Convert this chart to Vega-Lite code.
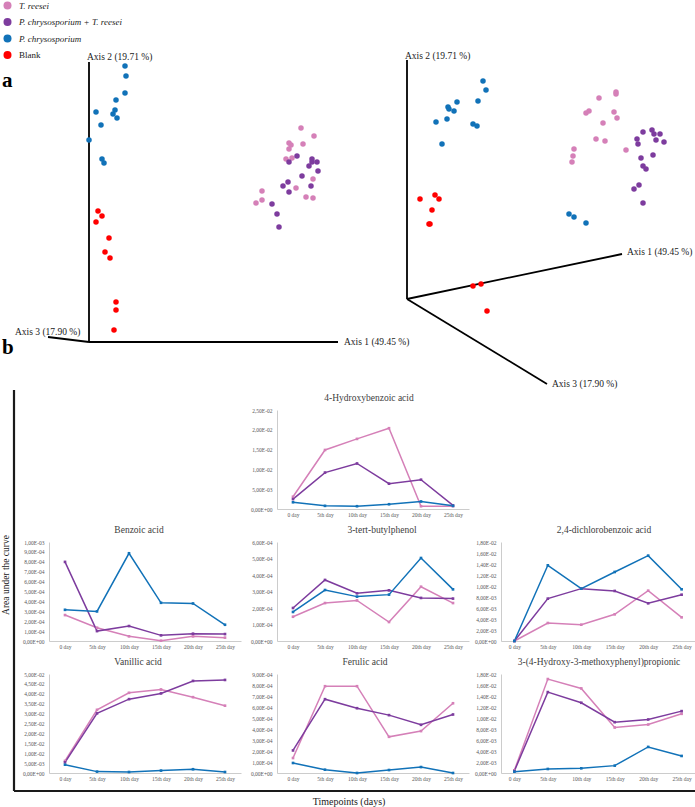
{
"$schema": "https://vega.github.io/schema/vega-lite/v6.json",
"padding": 0,
"background": "white",
"columns": 4,
"bounds": "flush",
"align": "each",
"spacing": {"row": 33, "column": 0},
"config": {
 "font": "Liberation Serif",
 "view": {"stroke": null},
 "axis": {"domainColor": "#bfbfbf", "domainWidth": 0.8, "ticks": false, "grid": false, "labelFont": "Liberation Serif", "labelFontSize": 5.5, "labelColor": "#595959", "labelOverlap": false},
 "axisX": {"labelAngle": 0, "labelPadding": 3},
 "axisY": {"labelPadding": 5},
 "title": {"font": "Liberation Serif", "fontSize": 9.5, "fontWeight": "normal", "color": "#404040", "offset": 6}
},
"datasets": {
 "pcoa": [
  {"group": "P. chrysosporium", "x": 125, "y": 66}, {"group": "P. chrysosporium", "x": 126, "y": 76}, {"group": "P. chrysosporium", "x": 125, "y": 93}, {"group": "P. chrysosporium", "x": 116, "y": 100}, {"group": "P. chrysosporium", "x": 96, "y": 112}, {"group": "P. chrysosporium", "x": 115, "y": 110}, {"group": "P. chrysosporium", "x": 113, "y": 114}, {"group": "P. chrysosporium", "x": 117, "y": 118}, {"group": "P. chrysosporium", "x": 101, "y": 125}, {"group": "P. chrysosporium", "x": 89, "y": 140}, {"group": "P. chrysosporium", "x": 102, "y": 159}, {"group": "P. chrysosporium", "x": 104, "y": 163},
  {"group": "Blank", "x": 98, "y": 211}, {"group": "Blank", "x": 102, "y": 216}, {"group": "Blank", "x": 96, "y": 222}, {"group": "Blank", "x": 109, "y": 238}, {"group": "Blank", "x": 105, "y": 252}, {"group": "Blank", "x": 110, "y": 258}, {"group": "Blank", "x": 116, "y": 302}, {"group": "Blank", "x": 116, "y": 310}, {"group": "Blank", "x": 114, "y": 330},
  {"group": "T. reesei", "x": 301, "y": 128}, {"group": "T. reesei", "x": 314, "y": 136}, {"group": "T. reesei", "x": 289, "y": 143}, {"group": "T. reesei", "x": 291, "y": 145}, {"group": "T. reesei", "x": 303, "y": 144}, {"group": "T. reesei", "x": 289, "y": 149}, {"group": "T. reesei", "x": 286, "y": 159}, {"group": "T. reesei", "x": 292, "y": 158}, {"group": "T. reesei", "x": 313, "y": 179}, {"group": "T. reesei", "x": 296, "y": 188}, {"group": "T. reesei", "x": 262, "y": 191}, {"group": "T. reesei", "x": 262, "y": 200}, {"group": "T. reesei", "x": 256, "y": 203}, {"group": "T. reesei", "x": 306, "y": 197}, {"group": "T. reesei", "x": 313, "y": 198},
  {"group": "P. chrysosporium + T. reesei", "x": 297, "y": 156}, {"group": "P. chrysosporium + T. reesei", "x": 289, "y": 162}, {"group": "P. chrysosporium + T. reesei", "x": 312, "y": 159}, {"group": "P. chrysosporium + T. reesei", "x": 312, "y": 162}, {"group": "P. chrysosporium + T. reesei", "x": 317, "y": 162}, {"group": "P. chrysosporium + T. reesei", "x": 309, "y": 166}, {"group": "P. chrysosporium + T. reesei", "x": 318, "y": 171}, {"group": "P. chrysosporium + T. reesei", "x": 302, "y": 176}, {"group": "P. chrysosporium + T. reesei", "x": 288, "y": 182}, {"group": "P. chrysosporium + T. reesei", "x": 283, "y": 186}, {"group": "P. chrysosporium + T. reesei", "x": 311, "y": 186}, {"group": "P. chrysosporium + T. reesei", "x": 289, "y": 192}, {"group": "P. chrysosporium + T. reesei", "x": 272, "y": 204}, {"group": "P. chrysosporium + T. reesei", "x": 277, "y": 214}, {"group": "P. chrysosporium + T. reesei", "x": 279, "y": 227},
  {"group": "P. chrysosporium", "x": 483, "y": 81}, {"group": "P. chrysosporium", "x": 486, "y": 90}, {"group": "P. chrysosporium", "x": 478, "y": 101}, {"group": "P. chrysosporium", "x": 457, "y": 102}, {"group": "P. chrysosporium", "x": 448, "y": 107}, {"group": "P. chrysosporium", "x": 449, "y": 109}, {"group": "P. chrysosporium", "x": 454, "y": 111}, {"group": "P. chrysosporium", "x": 436, "y": 122}, {"group": "P. chrysosporium", "x": 447, "y": 119}, {"group": "P. chrysosporium", "x": 473, "y": 124}, {"group": "P. chrysosporium", "x": 477, "y": 126}, {"group": "P. chrysosporium", "x": 442, "y": 144}, {"group": "P. chrysosporium", "x": 569, "y": 214}, {"group": "P. chrysosporium", "x": 574, "y": 217}, {"group": "P. chrysosporium", "x": 586, "y": 223},
  {"group": "Blank", "x": 435, "y": 195}, {"group": "Blank", "x": 420, "y": 199}, {"group": "Blank", "x": 439, "y": 199}, {"group": "Blank", "x": 432, "y": 210}, {"group": "Blank", "x": 429, "y": 224}, {"group": "Blank", "x": 430, "y": 224}, {"group": "Blank", "x": 473, "y": 286}, {"group": "Blank", "x": 481, "y": 284}, {"group": "Blank", "x": 487, "y": 311},
  {"group": "T. reesei", "x": 616, "y": 92}, {"group": "T. reesei", "x": 616, "y": 94}, {"group": "T. reesei", "x": 599, "y": 98}, {"group": "T. reesei", "x": 589, "y": 111}, {"group": "T. reesei", "x": 586, "y": 113}, {"group": "T. reesei", "x": 614, "y": 112}, {"group": "T. reesei", "x": 617, "y": 118}, {"group": "T. reesei", "x": 603, "y": 123}, {"group": "T. reesei", "x": 596, "y": 139}, {"group": "T. reesei", "x": 605, "y": 141}, {"group": "T. reesei", "x": 626, "y": 150}, {"group": "T. reesei", "x": 574, "y": 149}, {"group": "T. reesei", "x": 573, "y": 156}, {"group": "T. reesei", "x": 572, "y": 162},
  {"group": "P. chrysosporium + T. reesei", "x": 643, "y": 132}, {"group": "P. chrysosporium + T. reesei", "x": 652, "y": 130}, {"group": "P. chrysosporium + T. reesei", "x": 654, "y": 134}, {"group": "P. chrysosporium + T. reesei", "x": 660, "y": 134}, {"group": "P. chrysosporium + T. reesei", "x": 656, "y": 140}, {"group": "P. chrysosporium + T. reesei", "x": 664, "y": 142}, {"group": "P. chrysosporium + T. reesei", "x": 637, "y": 139}, {"group": "P. chrysosporium + T. reesei", "x": 638, "y": 144}, {"group": "P. chrysosporium + T. reesei", "x": 653, "y": 155}, {"group": "P. chrysosporium + T. reesei", "x": 641, "y": 158}, {"group": "P. chrysosporium + T. reesei", "x": 643, "y": 166}, {"group": "P. chrysosporium + T. reesei", "x": 646, "y": 169}, {"group": "P. chrysosporium + T. reesei", "x": 639, "y": 185}, {"group": "P. chrysosporium + T. reesei", "x": 634, "y": 189}, {"group": "P. chrysosporium + T. reesei", "x": 643, "y": 203}
 ],
 "axislines": [
  {"x": 89, "y": 62, "x2": 89, "y2": 342}, {"x": 89, "y": 342, "x2": 338, "y2": 342}, {"x": 89, "y": 342, "x2": 48, "y2": 337},
  {"x": 407, "y": 60, "x2": 407, "y2": 299}, {"x": 407, "y": 299, "x2": 622, "y2": 254}, {"x": 407, "y": 299, "x2": 547, "y2": 384}
 ],
 "frame": [
  {"x": 14, "y": 390, "x2": 14, "y2": 791}, {"x": 14, "y": 791, "x2": 695, "y2": 791}
 ],
 "axislabels": [
  {"label": "Axis 2 (19.71 %)", "x": 87, "y": 57}, {"label": "Axis 1 (49.45 %)", "x": 344, "y": 342}, {"label": "Axis 3 (17.90 %)", "x": 15, "y": 332},
  {"label": "Axis 2 (19.71 %)", "x": 405, "y": 56}, {"label": "Axis 1 (49.45 %)", "x": 627, "y": 252}, {"label": "Axis 3 (17.90 %)", "x": 552, "y": 384}
 ],
 "panels": [{"label": "a", "x": 2, "y": 81}, {"label": "b", "x": 2, "y": 348}],
 "auc": [
  {"compound": "4-Hydroxybenzoic acid", "group": "T. reesei", "day": "0 day", "value": 0.0031},
  {"compound": "4-Hydroxybenzoic acid", "group": "T. reesei", "day": "5th day", "value": 0.0149},
  {"compound": "4-Hydroxybenzoic acid", "group": "T. reesei", "day": "10th day", "value": 0.0177},
  {"compound": "4-Hydroxybenzoic acid", "group": "T. reesei", "day": "15th day", "value": 0.0204},
  {"compound": "4-Hydroxybenzoic acid", "group": "T. reesei", "day": "20th day", "value": 0.0007},
  {"compound": "4-Hydroxybenzoic acid", "group": "T. reesei", "day": "25th day", "value": 0.0007},
  {"compound": "4-Hydroxybenzoic acid", "group": "P. chrysosporium + T. reesei", "day": "0 day", "value": 0.0025},
  {"compound": "4-Hydroxybenzoic acid", "group": "P. chrysosporium + T. reesei", "day": "5th day", "value": 0.0092},
  {"compound": "4-Hydroxybenzoic acid", "group": "P. chrysosporium + T. reesei", "day": "10th day", "value": 0.0115},
  {"compound": "4-Hydroxybenzoic acid", "group": "P. chrysosporium + T. reesei", "day": "15th day", "value": 0.0064},
  {"compound": "4-Hydroxybenzoic acid", "group": "P. chrysosporium + T. reesei", "day": "20th day", "value": 0.0074},
  {"compound": "4-Hydroxybenzoic acid", "group": "P. chrysosporium + T. reesei", "day": "25th day", "value": 0.0009},
  {"compound": "4-Hydroxybenzoic acid", "group": "P. chrysosporium", "day": "0 day", "value": 0.0017},
  {"compound": "4-Hydroxybenzoic acid", "group": "P. chrysosporium", "day": "5th day", "value": 0.0008},
  {"compound": "4-Hydroxybenzoic acid", "group": "P. chrysosporium", "day": "10th day", "value": 0.0007},
  {"compound": "4-Hydroxybenzoic acid", "group": "P. chrysosporium", "day": "15th day", "value": 0.0012},
  {"compound": "4-Hydroxybenzoic acid", "group": "P. chrysosporium", "day": "20th day", "value": 0.0019},
  {"compound": "4-Hydroxybenzoic acid", "group": "P. chrysosporium", "day": "25th day", "value": 0.0008},
  {"compound": "Benzoic acid", "group": "T. reesei", "day": "0 day", "value": 0.000262},
  {"compound": "Benzoic acid", "group": "T. reesei", "day": "5th day", "value": 0.000134},
  {"compound": "Benzoic acid", "group": "T. reesei", "day": "10th day", "value": 0.000047},
  {"compound": "Benzoic acid", "group": "T. reesei", "day": "15th day", "value": 0.000003},
  {"compound": "Benzoic acid", "group": "T. reesei", "day": "20th day", "value": 0.000047},
  {"compound": "Benzoic acid", "group": "T. reesei", "day": "25th day", "value": 0.000034},
  {"compound": "Benzoic acid", "group": "P. chrysosporium + T. reesei", "day": "0 day", "value": 0.000799},
  {"compound": "Benzoic acid", "group": "P. chrysosporium + T. reesei", "day": "5th day", "value": 0.0001},
  {"compound": "Benzoic acid", "group": "P. chrysosporium + T. reesei", "day": "10th day", "value": 0.000151},
  {"compound": "Benzoic acid", "group": "P. chrysosporium + T. reesei", "day": "15th day", "value": 0.000057},
  {"compound": "Benzoic acid", "group": "P. chrysosporium + T. reesei", "day": "20th day", "value": 0.000074},
  {"compound": "Benzoic acid", "group": "P. chrysosporium + T. reesei", "day": "25th day", "value": 0.00007},
  {"compound": "Benzoic acid", "group": "P. chrysosporium", "day": "0 day", "value": 0.000315},
  {"compound": "Benzoic acid", "group": "P. chrysosporium", "day": "5th day", "value": 0.000299},
  {"compound": "Benzoic acid", "group": "P. chrysosporium", "day": "10th day", "value": 0.000886},
  {"compound": "Benzoic acid", "group": "P. chrysosporium", "day": "15th day", "value": 0.000386},
  {"compound": "Benzoic acid", "group": "P. chrysosporium", "day": "20th day", "value": 0.000379},
  {"compound": "Benzoic acid", "group": "P. chrysosporium", "day": "25th day", "value": 0.000164},
  {"compound": "3-tert-butylphenol", "group": "T. reesei", "day": "0 day", "value": 0.000147},
  {"compound": "3-tert-butylphenol", "group": "T. reesei", "day": "5th day", "value": 0.00023},
  {"compound": "3-tert-butylphenol", "group": "T. reesei", "day": "10th day", "value": 0.000246},
  {"compound": "3-tert-butylphenol", "group": "T. reesei", "day": "15th day", "value": 0.000115},
  {"compound": "3-tert-butylphenol", "group": "T. reesei", "day": "20th day", "value": 0.000329},
  {"compound": "3-tert-butylphenol", "group": "T. reesei", "day": "25th day", "value": 0.00023},
  {"compound": "3-tert-butylphenol", "group": "P. chrysosporium + T. reesei", "day": "0 day", "value": 0.0002},
  {"compound": "3-tert-butylphenol", "group": "P. chrysosporium + T. reesei", "day": "5th day", "value": 0.00037},
  {"compound": "3-tert-butylphenol", "group": "P. chrysosporium + T. reesei", "day": "10th day", "value": 0.000289},
  {"compound": "3-tert-butylphenol", "group": "P. chrysosporium + T. reesei", "day": "15th day", "value": 0.000307},
  {"compound": "3-tert-butylphenol", "group": "P. chrysosporium + T. reesei", "day": "20th day", "value": 0.000261},
  {"compound": "3-tert-butylphenol", "group": "P. chrysosporium + T. reesei", "day": "25th day", "value": 0.000257},
  {"compound": "3-tert-butylphenol", "group": "P. chrysosporium", "day": "0 day", "value": 0.000176},
  {"compound": "3-tert-butylphenol", "group": "P. chrysosporium", "day": "5th day", "value": 0.000309},
  {"compound": "3-tert-butylphenol", "group": "P. chrysosporium", "day": "10th day", "value": 0.000269},
  {"compound": "3-tert-butylphenol", "group": "P. chrysosporium", "day": "15th day", "value": 0.000281},
  {"compound": "3-tert-butylphenol", "group": "P. chrysosporium", "day": "20th day", "value": 0.000503},
  {"compound": "3-tert-butylphenol", "group": "P. chrysosporium", "day": "25th day", "value": 0.000313},
  {"compound": "2,4-dichlorobenzoic acid", "group": "T. reesei", "day": "0 day", "value": 0},
  {"compound": "2,4-dichlorobenzoic acid", "group": "T. reesei", "day": "5th day", "value": 0.00327},
  {"compound": "2,4-dichlorobenzoic acid", "group": "T. reesei", "day": "10th day", "value": 0.00297},
  {"compound": "2,4-dichlorobenzoic acid", "group": "T. reesei", "day": "15th day", "value": 0.00485},
  {"compound": "2,4-dichlorobenzoic acid", "group": "T. reesei", "day": "20th day", "value": 0.00915},
  {"compound": "2,4-dichlorobenzoic acid", "group": "T. reesei", "day": "25th day", "value": 0.0043},
  {"compound": "2,4-dichlorobenzoic acid", "group": "P. chrysosporium + T. reesei", "day": "0 day", "value": 0},
  {"compound": "2,4-dichlorobenzoic acid", "group": "P. chrysosporium + T. reesei", "day": "5th day", "value": 0.0077},
  {"compound": "2,4-dichlorobenzoic acid", "group": "P. chrysosporium + T. reesei", "day": "10th day", "value": 0.00952},
  {"compound": "2,4-dichlorobenzoic acid", "group": "P. chrysosporium + T. reesei", "day": "15th day", "value": 0.0091},
  {"compound": "2,4-dichlorobenzoic acid", "group": "P. chrysosporium + T. reesei", "day": "20th day", "value": 0.00685},
  {"compound": "2,4-dichlorobenzoic acid", "group": "P. chrysosporium + T. reesei", "day": "25th day", "value": 0.00842},
  {"compound": "2,4-dichlorobenzoic acid", "group": "P. chrysosporium", "day": "0 day", "value": 0},
  {"compound": "2,4-dichlorobenzoic acid", "group": "P. chrysosporium", "day": "5th day", "value": 0.01376},
  {"compound": "2,4-dichlorobenzoic acid", "group": "P. chrysosporium", "day": "10th day", "value": 0.00952},
  {"compound": "2,4-dichlorobenzoic acid", "group": "P. chrysosporium", "day": "15th day", "value": 0.01255},
  {"compound": "2,4-dichlorobenzoic acid", "group": "P. chrysosporium", "day": "20th day", "value": 0.01552},
  {"compound": "2,4-dichlorobenzoic acid", "group": "P. chrysosporium", "day": "25th day", "value": 0.0094},
  {"compound": "Vanillic acid", "group": "T. reesei", "day": "0 day", "value": 0.0061},
  {"compound": "Vanillic acid", "group": "T. reesei", "day": "5th day", "value": 0.0319},
  {"compound": "Vanillic acid", "group": "T. reesei", "day": "10th day", "value": 0.0405},
  {"compound": "Vanillic acid", "group": "T. reesei", "day": "15th day", "value": 0.0422},
  {"compound": "Vanillic acid", "group": "T. reesei", "day": "20th day", "value": 0.0383},
  {"compound": "Vanillic acid", "group": "T. reesei", "day": "25th day", "value": 0.034},
  {"compound": "Vanillic acid", "group": "P. chrysosporium + T. reesei", "day": "0 day", "value": 0.0054},
  {"compound": "Vanillic acid", "group": "P. chrysosporium + T. reesei", "day": "5th day", "value": 0.0301},
  {"compound": "Vanillic acid", "group": "P. chrysosporium + T. reesei", "day": "10th day", "value": 0.0373},
  {"compound": "Vanillic acid", "group": "P. chrysosporium + T. reesei", "day": "15th day", "value": 0.0402},
  {"compound": "Vanillic acid", "group": "P. chrysosporium + T. reesei", "day": "20th day", "value": 0.0465},
  {"compound": "Vanillic acid", "group": "P. chrysosporium + T. reesei", "day": "25th day", "value": 0.047},
  {"compound": "Vanillic acid", "group": "P. chrysosporium", "day": "0 day", "value": 0.0042},
  {"compound": "Vanillic acid", "group": "P. chrysosporium", "day": "5th day", "value": 0.0007},
  {"compound": "Vanillic acid", "group": "P. chrysosporium", "day": "10th day", "value": 0.0005},
  {"compound": "Vanillic acid", "group": "P. chrysosporium", "day": "15th day", "value": 0.0012},
  {"compound": "Vanillic acid", "group": "P. chrysosporium", "day": "20th day", "value": 0.0019},
  {"compound": "Vanillic acid", "group": "P. chrysosporium", "day": "25th day", "value": 0.0005},
  {"compound": "Ferulic acid", "group": "T. reesei", "day": "0 day", "value": 0.000136},
  {"compound": "Ferulic acid", "group": "T. reesei", "day": "5th day", "value": 0.000789},
  {"compound": "Ferulic acid", "group": "T. reesei", "day": "10th day", "value": 0.000789},
  {"compound": "Ferulic acid", "group": "T. reesei", "day": "15th day", "value": 0.000329},
  {"compound": "Ferulic acid", "group": "T. reesei", "day": "20th day", "value": 0.000381},
  {"compound": "Ferulic acid", "group": "T. reesei", "day": "25th day", "value": 0.000634},
  {"compound": "Ferulic acid", "group": "P. chrysosporium + T. reesei", "day": "0 day", "value": 0.000205},
  {"compound": "Ferulic acid", "group": "P. chrysosporium + T. reesei", "day": "5th day", "value": 0.000671},
  {"compound": "Ferulic acid", "group": "P. chrysosporium + T. reesei", "day": "10th day", "value": 0.000589},
  {"compound": "Ferulic acid", "group": "P. chrysosporium + T. reesei", "day": "15th day", "value": 0.000526},
  {"compound": "Ferulic acid", "group": "P. chrysosporium + T. reesei", "day": "20th day", "value": 0.000438},
  {"compound": "Ferulic acid", "group": "P. chrysosporium + T. reesei", "day": "25th day", "value": 0.000532},
  {"compound": "Ferulic acid", "group": "P. chrysosporium", "day": "0 day", "value": 0.000091},
  {"compound": "Ferulic acid", "group": "P. chrysosporium", "day": "5th day", "value": 0.00003},
  {"compound": "Ferulic acid", "group": "P. chrysosporium", "day": "10th day", "value": 0},
  {"compound": "Ferulic acid", "group": "P. chrysosporium", "day": "15th day", "value": 0.000027},
  {"compound": "Ferulic acid", "group": "P. chrysosporium", "day": "20th day", "value": 0.000054},
  {"compound": "Ferulic acid", "group": "P. chrysosporium", "day": "25th day", "value": 0},
  {"compound": "3-(4-Hydroxy-3-methoxyphenyl)propionic", "group": "T. reesei", "day": "0 day", "value": 0.00049},
  {"compound": "3-(4-Hydroxy-3-methoxyphenyl)propionic", "group": "T. reesei", "day": "5th day", "value": 0.01708},
  {"compound": "3-(4-Hydroxy-3-methoxyphenyl)propionic", "group": "T. reesei", "day": "10th day", "value": 0.01538},
  {"compound": "3-(4-Hydroxy-3-methoxyphenyl)propionic", "group": "T. reesei", "day": "15th day", "value": 0.00827},
  {"compound": "3-(4-Hydroxy-3-methoxyphenyl)propionic", "group": "T. reesei", "day": "20th day", "value": 0.00881},
  {"compound": "3-(4-Hydroxy-3-methoxyphenyl)propionic", "group": "T. reesei", "day": "25th day", "value": 0.01076},
  {"compound": "3-(4-Hydroxy-3-methoxyphenyl)propionic", "group": "P. chrysosporium + T. reesei", "day": "0 day", "value": 0.00036},
  {"compound": "3-(4-Hydroxy-3-methoxyphenyl)propionic", "group": "P. chrysosporium + T. reesei", "day": "5th day", "value": 0.01471},
  {"compound": "3-(4-Hydroxy-3-methoxyphenyl)propionic", "group": "P. chrysosporium + T. reesei", "day": "10th day", "value": 0.01277},
  {"compound": "3-(4-Hydroxy-3-methoxyphenyl)propionic", "group": "P. chrysosporium + T. reesei", "day": "15th day", "value": 0.00924},
  {"compound": "3-(4-Hydroxy-3-methoxyphenyl)propionic", "group": "P. chrysosporium + T. reesei", "day": "20th day", "value": 0.00973},
  {"compound": "3-(4-Hydroxy-3-methoxyphenyl)propionic", "group": "P. chrysosporium + T. reesei", "day": "25th day", "value": 0.01125},
  {"compound": "3-(4-Hydroxy-3-methoxyphenyl)propionic", "group": "P. chrysosporium", "day": "0 day", "value": 0.00024},
  {"compound": "3-(4-Hydroxy-3-methoxyphenyl)propionic", "group": "P. chrysosporium", "day": "5th day", "value": 0.00073},
  {"compound": "3-(4-Hydroxy-3-methoxyphenyl)propionic", "group": "P. chrysosporium", "day": "10th day", "value": 0.00085},
  {"compound": "3-(4-Hydroxy-3-methoxyphenyl)propionic", "group": "P. chrysosporium", "day": "15th day", "value": 0.00134},
  {"compound": "3-(4-Hydroxy-3-methoxyphenyl)propionic", "group": "P. chrysosporium", "day": "20th day", "value": 0.00474},
  {"compound": "3-(4-Hydroxy-3-methoxyphenyl)propionic", "group": "P. chrysosporium", "day": "25th day", "value": 0.0031}
 ]
},
"concat": [
 {
  "width": 49, "height": 377,
  "encoding": {
   "x": {"field": "x", "type": "quantitative", "scale": {"domain": [0, 49], "nice": false, "zero": false}, "axis": null},
   "y": {"field": "y", "type": "quantitative", "scale": {"domain": [0, 377], "nice": false, "zero": false, "reverse": true}, "axis": null}
  },
  "layer": [
   {"data": {"name": "axislines"}, "mark": {"type": "rule", "strokeWidth": 1.8, "color": "#000000"}, "encoding": {"x2": {"field": "x2"}, "y2": {"field": "y2"}}},
   {"data": {"name": "frame"}, "mark": {"type": "rule", "strokeWidth": 2.2, "color": "#1a1a1a"}, "encoding": {"x2": {"field": "x2"}, "y2": {"field": "y2"}}},
   {"data": {"name": "pcoa"}, "mark": {"type": "circle", "size": 30, "opacity": 1},
    "encoding": {"color": {"field": "group", "type": "nominal",
      "scale": {"domain": ["T. reesei", "P. chrysosporium + T. reesei", "P. chrysosporium", "Blank"], "range": ["#d580b8", "#7d3c9e", "#1172b8", "#ff0000"]},
      "legend": {"orient": "none", "legendX": 3, "legendY": 1, "title": null, "symbolType": "circle", "symbolSize": 64, "symbolStrokeWidth": 0, "labelFont": "Liberation Serif", "labelFontSize": 9, "labelFontStyle": {"expr": "datum.label == 'Blank' ? 'normal' : 'italic'"}, "labelColor": "#222222", "rowPadding": 6.5, "labelOffset": 7, "padding": 0}}}},
   {"data": {"name": "axislabels"}, "mark": {"type": "text", "align": "left", "baseline": "middle", "font": "Liberation Serif", "fontSize": 9.5, "color": "#222222"}, "encoding": {"text": {"field": "label"}}},
   {"data": {"name": "panels"}, "mark": {"type": "text", "align": "left", "baseline": "middle", "font": "Liberation Serif", "fontSize": 21, "fontWeight": "bold", "color": "#000000"}, "encoding": {"text": {"field": "label"}}},
   {"data": {"values": [{"label": "Area under the curve", "x": 6, "y": 575}]}, "mark": {"type": "text", "angle": 270, "align": "center", "baseline": "middle", "font": "Liberation Serif", "fontSize": 9.5, "color": "#222222"}, "encoding": {"text": {"field": "label"}}},
   {"data": {"values": [{"label": "Timepoints (days)", "x": 349, "y": 802}]}, "mark": {"type": "text", "align": "center", "baseline": "middle", "font": "Liberation Serif", "fontSize": 10, "color": "#222222"}, "encoding": {"text": {"field": "label"}}}
  ]
 },
 {"width": 228, "height": 1, "data": {"values": []}, "mark": "point"},
 {"width": 224, "height": 1, "data": {"values": []}, "mark": "point"},
 {"width": 194, "height": 1, "data": {"values": []}, "mark": "point"},
 {"width": 1, "height": 1, "data": {"values": []}, "mark": "point"},
 {"width": 1, "height": 1, "data": {"values": []}, "mark": "point"},
 {"width": 192, "height": 99, "title": {"text": "4-Hydroxybenzoic acid", "dx": -4},
  "data": {"name": "auc"}, "transform": [{"filter": {"field": "compound", "equal": "4-Hydroxybenzoic acid"}}],
  "mark": {"type": "line", "strokeWidth": 1.5, "point": {"filled": true, "size": 7, "shape": "square"}},
  "encoding": {
   "x": {"field": "day", "type": "ordinal", "title": null, "sort": ["0 day", "5th day", "10th day", "15th day", "20th day", "25th day"], "scale": {"type": "point", "padding": 0.5}},
   "y": {"field": "value", "type": "quantitative", "title": null, "scale": {"domain": [0, 0.025], "nice": false}, "axis": {"values": [0, 0.005, 0.01, 0.015, 0.02, 0.025], "labelExpr": "datum.value == 0 ? '0,00E+00' : replace(format(datum.value / pow(10, floor(log(datum.value) / LN10 + 0.000000001)), '.2f'), '.', ',') + 'E' + (floor(log(datum.value) / LN10 + 0.000000001) < 0 ? '-' : '+') + (abs(floor(log(datum.value) / LN10 + 0.000000001)) < 10 ? '0' : '') + abs(floor(log(datum.value) / LN10 + 0.000000001))"}},
   "color": {"field": "group", "type": "nominal", "legend": null}
  }},
 {"width": 1, "height": 1, "data": {"values": []}, "mark": "point"},
 {"width": 1, "height": 1, "data": {"values": []}, "mark": "point"},
 {"width": 192, "height": 99, "title": {"text": "Benzoic acid", "dx": -6},
  "data": {"name": "auc"}, "transform": [{"filter": {"field": "compound", "equal": "Benzoic acid"}}],
  "mark": {"type": "line", "strokeWidth": 1.5, "point": {"filled": true, "size": 7, "shape": "square"}},
  "encoding": {
   "x": {"field": "day", "type": "ordinal", "title": null, "sort": ["0 day", "5th day", "10th day", "15th day", "20th day", "25th day"], "scale": {"type": "point", "padding": 0.5}},
   "y": {"field": "value", "type": "quantitative", "title": null, "scale": {"domain": [0, 0.001], "nice": false}, "axis": {"values": [0, 0.0001, 0.0002, 0.0003, 0.0004, 0.0005, 0.0006, 0.0007, 0.0008, 0.0009, 0.001], "labelExpr": "datum.value == 0 ? '0,00E+00' : replace(format(datum.value / pow(10, floor(log(datum.value) / LN10 + 0.000000001)), '.2f'), '.', ',') + 'E' + (floor(log(datum.value) / LN10 + 0.000000001) < 0 ? '-' : '+') + (abs(floor(log(datum.value) / LN10 + 0.000000001)) < 10 ? '0' : '') + abs(floor(log(datum.value) / LN10 + 0.000000001))"}},
   "color": {"field": "group", "type": "nominal", "legend": null}
  }},
 {"width": 192, "height": 99, "title": {"text": "3-tert-butylphenol", "dx": 9},
  "data": {"name": "auc"}, "transform": [{"filter": {"field": "compound", "equal": "3-tert-butylphenol"}}],
  "mark": {"type": "line", "strokeWidth": 1.5, "point": {"filled": true, "size": 7, "shape": "square"}},
  "encoding": {
   "x": {"field": "day", "type": "ordinal", "title": null, "sort": ["0 day", "5th day", "10th day", "15th day", "20th day", "25th day"], "scale": {"type": "point", "padding": 0.5}},
   "y": {"field": "value", "type": "quantitative", "title": null, "scale": {"domain": [0, 0.0006], "nice": false}, "axis": {"values": [0, 0.0001, 0.0002, 0.0003, 0.0004, 0.0005, 0.0006], "labelExpr": "datum.value == 0 ? '0,00E+00' : replace(format(datum.value / pow(10, floor(log(datum.value) / LN10 + 0.000000001)), '.2f'), '.', ',') + 'E' + (floor(log(datum.value) / LN10 + 0.000000001) < 0 ? '-' : '+') + (abs(floor(log(datum.value) / LN10 + 0.000000001)) < 10 ? '0' : '') + abs(floor(log(datum.value) / LN10 + 0.000000001))"}},
   "color": {"field": "group", "type": "nominal", "legend": null}
  }},
 {"width": 194, "height": 99, "title": {"text": "2,4-dichlorobenzoic acid", "dx": 6},
  "data": {"name": "auc"}, "transform": [{"filter": {"field": "compound", "equal": "2,4-dichlorobenzoic acid"}}],
  "mark": {"type": "line", "strokeWidth": 1.5, "point": {"filled": true, "size": 7, "shape": "square"}},
  "encoding": {
   "x": {"field": "day", "type": "ordinal", "title": null, "sort": ["0 day", "5th day", "10th day", "15th day", "20th day", "25th day"], "scale": {"type": "point", "padding": 0.4}},
   "y": {"field": "value", "type": "quantitative", "title": null, "scale": {"domain": [0, 0.018], "nice": false}, "axis": {"values": [0, 0.002, 0.004, 0.006, 0.008, 0.01, 0.012, 0.014, 0.016, 0.018], "labelExpr": "datum.value == 0 ? '0,00E+00' : replace(format(datum.value / pow(10, floor(log(datum.value) / LN10 + 0.000000001)), '.2f'), '.', ',') + 'E' + (floor(log(datum.value) / LN10 + 0.000000001) < 0 ? '-' : '+') + (abs(floor(log(datum.value) / LN10 + 0.000000001)) < 10 ? '0' : '') + abs(floor(log(datum.value) / LN10 + 0.000000001))"}},
   "color": {"field": "group", "type": "nominal", "legend": null}
  }},
 {"width": 1, "height": 1, "data": {"values": []}, "mark": "point"},
 {"width": 192, "height": 99, "title": {"text": "Vanillic acid", "dx": -7},
  "data": {"name": "auc"}, "transform": [{"filter": {"field": "compound", "equal": "Vanillic acid"}}],
  "mark": {"type": "line", "strokeWidth": 1.5, "point": {"filled": true, "size": 7, "shape": "square"}},
  "encoding": {
   "x": {"field": "day", "type": "ordinal", "title": null, "sort": ["0 day", "5th day", "10th day", "15th day", "20th day", "25th day"], "scale": {"type": "point", "padding": 0.5}},
   "y": {"field": "value", "type": "quantitative", "title": null, "scale": {"domain": [0, 0.05], "nice": false}, "axis": {"values": [0, 0.005, 0.01, 0.015, 0.02, 0.025, 0.03, 0.035, 0.04, 0.045, 0.05], "labelExpr": "datum.value == 0 ? '0,00E+00' : replace(format(datum.value / pow(10, floor(log(datum.value) / LN10 + 0.000000001)), '.2f'), '.', ',') + 'E' + (floor(log(datum.value) / LN10 + 0.000000001) < 0 ? '-' : '+') + (abs(floor(log(datum.value) / LN10 + 0.000000001)) < 10 ? '0' : '') + abs(floor(log(datum.value) / LN10 + 0.000000001))"}},
   "color": {"field": "group", "type": "nominal", "legend": null}
  }},
 {"width": 192, "height": 99, "title": {"text": "Ferulic acid", "dx": -8},
  "data": {"name": "auc"}, "transform": [{"filter": {"field": "compound", "equal": "Ferulic acid"}}],
  "mark": {"type": "line", "strokeWidth": 1.5, "point": {"filled": true, "size": 7, "shape": "square"}},
  "encoding": {
   "x": {"field": "day", "type": "ordinal", "title": null, "sort": ["0 day", "5th day", "10th day", "15th day", "20th day", "25th day"], "scale": {"type": "point", "padding": 0.5}},
   "y": {"field": "value", "type": "quantitative", "title": null, "scale": {"domain": [0, 0.0009], "nice": false}, "axis": {"values": [0, 0.0001, 0.0002, 0.0003, 0.0004, 0.0005, 0.0006, 0.0007, 0.0008, 0.0009], "labelExpr": "datum.value == 0 ? '0,00E+00' : replace(format(datum.value / pow(10, floor(log(datum.value) / LN10 + 0.000000001)), '.2f'), '.', ',') + 'E' + (floor(log(datum.value) / LN10 + 0.000000001) < 0 ? '-' : '+') + (abs(floor(log(datum.value) / LN10 + 0.000000001)) < 10 ? '0' : '') + abs(floor(log(datum.value) / LN10 + 0.000000001))"}},
   "color": {"field": "group", "type": "nominal", "legend": null}
  }},
 {"width": 194, "height": 99, "title": {"text": "3-(4-Hydroxy-3-methoxyphenyl)propionic", "dx": 1},
  "data": {"name": "auc"}, "transform": [{"filter": {"field": "compound", "equal": "3-(4-Hydroxy-3-methoxyphenyl)propionic"}}],
  "mark": {"type": "line", "strokeWidth": 1.5, "point": {"filled": true, "size": 7, "shape": "square"}},
  "encoding": {
   "x": {"field": "day", "type": "ordinal", "title": null, "sort": ["0 day", "5th day", "10th day", "15th day", "20th day", "25th day"], "scale": {"type": "point", "padding": 0.4}},
   "y": {"field": "value", "type": "quantitative", "title": null, "scale": {"domain": [0, 0.018], "nice": false}, "axis": {"values": [0, 0.002, 0.004, 0.006, 0.008, 0.01, 0.012, 0.014, 0.016, 0.018], "labelExpr": "datum.value == 0 ? '0,00E+00' : replace(format(datum.value / pow(10, floor(log(datum.value) / LN10 + 0.000000001)), '.2f'), '.', ',') + 'E' + (floor(log(datum.value) / LN10 + 0.000000001) < 0 ? '-' : '+') + (abs(floor(log(datum.value) / LN10 + 0.000000001)) < 10 ? '0' : '') + abs(floor(log(datum.value) / LN10 + 0.000000001))"}},
   "color": {"field": "group", "type": "nominal", "legend": null}
  }}
]
}
